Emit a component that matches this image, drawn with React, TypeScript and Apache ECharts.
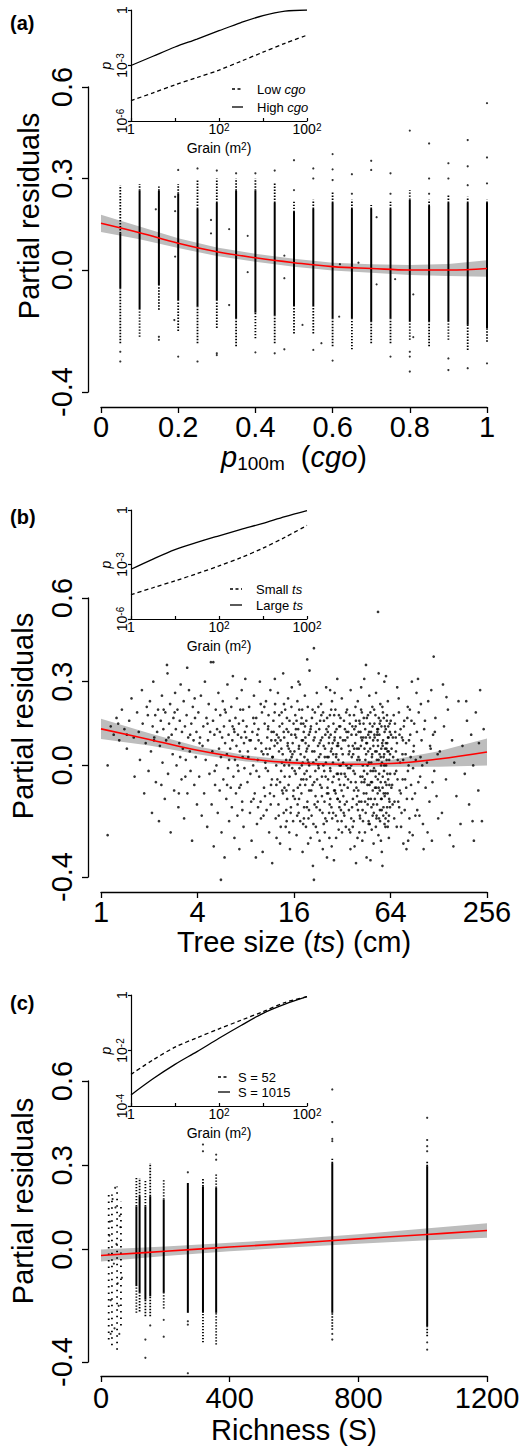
import React, { useEffect, useRef } from "react";
import * as echarts from "echarts";

const FONT = "'Liberation Sans', Arial, Helvetica, sans-serif";

// ---------------- Panel (a): p100m (cgo) ----------------
const aColX = [0.05, 0.1, 0.15, 0.2, 0.25, 0.3, 0.35, 0.4, 0.45, 0.5, 0.55, 0.6, 0.65, 0.7, 0.75, 0.8, 0.85, 0.9, 0.95, 1.0];
const aTop = [0.278, 0.282, 0.274, 0.282, 0.295, 0.3, 0.3, 0.3, 0.284, 0.224, 0.23, 0.257, 0.23, 0.213, 0.224, 0.262, 0.23, 0.246, 0.24, 0.23];
const aCoreTop = [0.12, 0.26, 0.26, 0.25, 0.2, 0.22, 0.26, 0.26, 0.22, 0.19, 0.2, 0.22, 0.2, 0.2, 0.2, 0.23, 0.21, 0.22, 0.22, 0.22];
const aCoreBot = [-0.06, -0.13, -0.05, -0.1, -0.12, -0.1, -0.16, -0.14, -0.15, -0.12, -0.12, -0.16, -0.16, -0.17, -0.16, -0.17, -0.17, -0.17, -0.18, -0.19];
const aBot = [-0.24, -0.219, -0.13, -0.2, -0.24, -0.19, -0.25, -0.224, -0.24, -0.208, -0.208, -0.25, -0.26, -0.24, -0.24, -0.229, -0.25, -0.229, -0.262, -0.235];
const aPoints = [
  [0.05, -0.268], [0.05, -0.3], [0.15, -0.219], [0.15, -0.229], [0.2, 0.328], [0.2, -0.284],
  [0.25, 0.333], [0.25, -0.3], [0.3, 0.326], [0.3, -0.273], [0.3, -0.279], [0.35, 0.317],
  [0.4, 0.317], [0.4, -0.27], [0.45, 0.326], [0.45, -0.273], [0.5, 0.36], [0.5, 0.262],
  [0.55, 0.333], [0.55, 0.3], [0.55, -0.262], [0.6, 0.38], [0.6, 0.33], [0.6, 0.295], [0.6, -0.297],
  [0.65, 0.314], [0.65, 0.25], [0.7, 0.358], [0.7, 0.328], [0.75, 0.317], [0.75, 0.25], [0.75, -0.284],
  [0.8, 0.457], [0.8, -0.268], [0.8, -0.284], [0.8, -0.333], [0.85, 0.415], [0.85, 0.3], [0.85, 0.25],
  [0.9, 0.35], [0.9, 0.3], [0.9, -0.29], [0.9, -0.328], [0.95, 0.426], [0.95, 0.34], [0.95, 0.278], [0.95, -0.322],
  [1.0, 0.547], [1.0, 0.369], [1.0, 0.284], [1.0, -0.306],
  [0.142, 0.199], [0.192, 0.24], [0.192, 0.193], [0.192, 0.044], [0.285, 0.164], [0.285, 0.12], [0.332, 0.134],
  [0.38, 0.112], [0.38, -0.007], [0.475, 0.047], [0.475, -0.027], [0.619, 0.019], [0.667, 0.024], [0.714, 0.173],
  [0.714, -0.047], [0.762, -0.03], [0.809, -0.08], [0.332, -0.115], [0.522, -0.18], [0.571, -0.24], [0.475, -0.26],
  [0.809, -0.22], [0.617, -0.153], [0.19, -0.164]
];
const aFitX = [0, 0.1, 0.2, 0.3, 0.4, 0.5, 0.6, 0.7, 0.8, 0.9, 1.0];
const aFit = [0.153, 0.122, 0.088, 0.06, 0.04, 0.024, 0.011, 0.005, 0.0, 0.0, 0.005];
const aHalf = [0.028, 0.021, 0.016, 0.014, 0.013, 0.013, 0.013, 0.014, 0.016, 0.02, 0.027];

// inset curves: log10 grain vs log10 p
const grainLog = [0, 0.5, 1, 1.5, 2, 2.5, 3, 3.5, 4];
const aLowCgo = [-4.9, -4.48, -4.05, -3.65, -3.25, -2.77, -2.28, -1.8, -1.36];
const aHighCgo = [-3.0, -2.5, -2.0, -1.57, -1.12, -0.68, -0.3, -0.06, 0];

// ---------------- Panel (b): tree size [cm, residual] ----------------
const bPoints = [
  [1.1, 0.0], [1.1, -0.25], [1.15, 0.14], [1.2, 0.11], [1.25, 0.17], [1.3, 0.09], [1.35, 0.2], [1.4, 0.13], [1.45, 0.06], [1.5, 0.16],
  [1.55, 0.24], [1.6, 0.1], [1.62, -0.04], [1.68, 0.19], [1.72, 0.12], [1.75, 0.02], [1.8, 0.27], [1.82, 0.15], [1.86, -0.1], [1.9, 0.08],
  [1.93, 0.21], [1.96, 0.18], [1.98, -0.02], [1.45, 0.11], [1.28, 0.15],
  [2.02, 0.23], [2.05, 0.05], [2.08, -0.17], [2.1, 0.14], [2.12, 0.3], [2.15, 0.1], [2.18, 0.18], [2.2, -0.06], [2.24, 0.12], [2.27, 0.2],
  [2.3, -0.2], [2.33, 0.07], [2.36, 0.16], [2.4, 0.25], [2.42, 0.01], [2.45, 0.13], [2.5, -0.12], [2.52, 0.19], [2.55, 0.09], [2.6, 0.33],
  [2.62, -0.03], [2.66, 0.15], [2.7, 0.22], [2.72, -0.24], [2.76, 0.11], [2.8, 0.04], [2.83, 0.17], [2.86, -0.09], [2.9, 0.26], [2.93, 0.13],
  [2.96, 0.0], [3.0, 0.2], [3.04, -0.15], [3.08, 0.08], [3.1, 0.16], [3.14, 0.29], [3.18, -0.05], [3.2, 0.12], [3.24, 0.06], [3.28, 0.23],
  [3.3, -0.19], [3.34, 0.14], [3.38, 0.02], [3.42, 0.18], [3.46, -0.1], [3.5, 0.1], [3.54, 0.27], [3.58, 0.05], [3.62, -0.02], [3.66, 0.15],
  [3.7, -0.27], [3.74, 0.21], [3.78, 0.09], [3.82, -0.07], [3.86, 0.17], [3.9, 0.03], [3.94, 0.12], [3.97, -0.14], [2.58, 0.36], [3.45, 0.35],
  [2.14, 0.09], [2.38, -0.07], [2.64, 0.1], [2.88, 0.19], [3.12, 0.03], [3.36, -0.04], [3.6, 0.11], [3.84, 0.24], [2.46, 0.2], [3.06, -0.1],
  [4.05, 0.19], [4.1, -0.04], [4.15, 0.1], [4.2, 0.25], [4.25, -0.18], [4.3, 0.07], [4.35, 0.14], [4.4, -0.1], [4.45, 0.3], [4.5, 0.02],
  [4.55, 0.17], [4.6, -0.22], [4.65, 0.09], [4.7, 0.22], [4.75, -0.03], [4.8, 0.12], [4.85, 0.37], [4.9, -0.14], [4.95, 0.05], [5.0, 0.16],
  [5.05, -0.29], [5.1, 0.11], [5.15, -0.07], [5.2, 0.2], [5.25, 0.0], [5.3, 0.13], [5.35, -0.17], [5.4, 0.26], [5.45, 0.06], [5.5, -0.09],
  [5.55, 0.18], [5.6, 0.03], [5.65, -0.24], [5.7, 0.1], [5.75, 0.23], [5.8, -0.05], [5.85, 0.14], [5.9, -0.33], [5.95, 0.08], [6.0, 0.19],
  [6.05, -0.12], [6.1, 0.04], [6.15, 0.29], [6.2, -0.01], [6.25, 0.11], [6.3, -0.2], [6.35, 0.16], [6.4, 0.06], [6.45, -0.08], [6.5, 0.21],
  [6.55, -0.15], [6.6, 0.09], [6.65, 0.32], [6.7, -0.04], [6.75, 0.13], [6.8, -0.26], [6.85, 0.02], [6.9, 0.17], [6.95, -0.1], [7.0, 0.07],
  [7.05, 0.24], [7.1, -0.18], [7.15, 0.11], [7.2, -0.02], [7.25, 0.15], [7.3, -0.3], [7.35, 0.05], [7.4, 0.2], [7.45, -0.07], [7.5, 0.1],
  [7.55, 0.27], [7.6, -0.13], [7.65, 0.03], [7.7, 0.16], [7.75, -0.22], [7.8, 0.08], [7.85, -0.01], [7.9, 0.12], [7.95, 0.31], [5.02, 0.37], [5.6, -0.41],
  [4.12, 0.08], [4.62, 0.15], [5.12, -0.02], [5.52, 0.12], [5.92, 0.2], [6.12, -0.07], [6.62, 0.14], [7.12, 0.0], [7.62, -0.16], [6.3, 0.02],
  [6.8, 0.12], [7.3, -0.08], [7.7, 0.2],
  [8.1, 0.14], [8.2, -0.06], [8.3, 0.03], [8.4, 0.21], [8.5, -0.17], [8.6, 0.09], [8.7, -0.27], [8.8, 0.12], [8.9, 0.0], [9.0, 0.25],
  [9.1, -0.1], [9.2, 0.06], [9.3, 0.17], [9.4, -0.21], [9.5, 0.02], [9.6, 0.13], [9.7, -0.04], [9.8, 0.3], [9.9, -0.13], [10.0, 0.08],
  [10.1, 0.19], [10.2, -0.31], [10.3, 0.04], [10.4, -0.08], [10.5, 0.15], [10.6, 0.01], [10.7, 0.23], [10.8, -0.16], [10.9, 0.1], [11.0, -0.02],
  [11.1, 0.18], [11.2, -0.24], [11.3, 0.06], [11.4, 0.27], [11.5, -0.07], [11.6, 0.12], [11.7, -0.35], [11.8, 0.03], [11.9, 0.16], [12.0, -0.11],
  [12.1, 0.07], [12.2, 0.22], [12.3, -0.19], [12.4, 0.0], [12.5, 0.11], [12.6, -0.05], [12.7, 0.26], [12.8, -0.14], [12.9, 0.05], [13.0, 0.14],
  [13.1, -0.28], [13.2, 0.09], [13.3, -0.02], [13.4, 0.19], [13.5, -0.09], [13.6, 0.04], [13.7, 0.33], [13.8, -0.17], [13.9, 0.1], [14.0, -0.04],
  [14.1, 0.2], [14.2, -0.22], [14.3, 0.02], [14.4, 0.13], [14.5, -0.12], [14.6, 0.07], [14.7, 0.24], [14.8, -0.07], [14.9, 0.0], [15.0, 0.16],
  [15.1, -0.3], [15.2, 0.05], [15.3, -0.15], [15.4, 0.11], [15.5, 0.28], [15.6, -0.01], [15.7, 0.08], [15.8, -0.2], [15.9, 0.15], [8.45, 0.09],
  [8.95, -0.12], [9.45, 0.11], [9.95, -0.19], [10.45, 0.21], [10.95, 0.04], [11.45, -0.14], [11.95, 0.12], [12.45, -0.26], [12.95, 0.18], [13.45, 0.01],
  [13.95, -0.08], [14.45, 0.17], [14.95, -0.24], [15.45, 0.03], [9.25, -0.33], [12.15, 0.31], [10.65, -0.01], [11.55, 0.09], [13.65, -0.1], [14.85, 0.06],
  [8.05, 0.1], [8.55, -0.03], [9.05, 0.15], [9.55, -0.15], [10.05, 0.05], [10.55, -0.11], [11.05, 0.14], [11.65, -0.05], [12.25, 0.09], [12.85, -0.18],
  [13.35, 0.06], [13.85, 0.22], [14.35, -0.09], [14.75, 0.12], [15.25, -0.17], [15.65, 0.04], [8.25, 0.05], [8.65, -0.13], [8.92, 0.17], [9.33, -0.02],
  [9.62, 0.09], [9.92, 0.22], [10.33, -0.18], [10.72, 0.06], [11.02, 0.13], [11.33, -0.1], [11.72, 0.03], [12.12, 0.19], [12.42, -0.07], [12.82, 0.1],
  [13.22, -0.22], [13.52, 0.15], [13.92, 0.0], [14.32, -0.16], [14.62, 0.08], [15.02, -0.04], [15.42, 0.21], [15.82, -0.11],
  [16.1, 0.05], [16.2, -0.12], [16.3, 0.18], [16.4, -0.03], [16.5, 0.1], [16.6, -0.25], [16.7, 0.02], [16.8, 0.23], [16.9, -0.08], [17.0, 0.13],
  [17.1, -0.17], [17.2, 0.07], [17.3, -0.01], [17.4, 0.29], [17.5, -0.2], [17.6, 0.04], [17.7, 0.15], [17.8, -0.1], [17.9, 0.0], [18.0, 0.2],
  [18.1, -0.31], [18.2, 0.09], [18.3, -0.05], [18.4, 0.12], [18.5, -0.15], [18.6, 0.03], [18.7, 0.25], [18.8, -0.07], [18.9, 0.08], [19.0, -0.22],
  [19.1, 0.16], [19.2, -0.02], [19.3, 0.06], [19.4, -0.13], [19.5, 0.21], [19.6, -0.28], [19.7, 0.01], [19.8, 0.11], [19.9, -0.09], [20.0, 0.34],
  [20.2, -0.04], [20.4, 0.14], [20.6, -0.18], [20.8, 0.05], [21.0, -0.36], [21.2, 0.09], [21.4, -0.06], [21.6, 0.19], [21.8, -0.11], [22.0, 0.02],
  [22.2, 0.26], [22.4, -0.24], [22.6, 0.07], [22.8, -0.01], [23.0, 0.13], [23.2, -0.16], [23.4, 0.04], [23.6, 0.22], [23.8, -0.08], [24.0, 0.1],
  [24.2, -0.3], [24.4, 0.0], [24.6, 0.16], [24.8, -0.13], [25.0, 0.06], [25.2, -0.04], [25.4, 0.28], [25.6, -0.2], [25.8, 0.03], [26.0, 0.12],
  [26.2, -0.1], [26.4, 0.08], [26.6, -0.26], [26.8, 0.18], [27.0, -0.02], [27.2, 0.05], [27.4, -0.15], [27.6, 0.23], [27.8, -0.06], [28.0, 0.01],
  [28.2, 0.15], [28.4, -0.34], [28.6, 0.09], [28.8, -0.09], [29.0, 0.2], [29.2, -0.18], [29.4, 0.04], [29.6, -0.03], [29.8, 0.31], [30.0, -0.12],
  [30.2, 0.07], [30.4, -0.23], [30.6, 0.14], [30.8, 0.0], [31.0, -0.07], [31.2, 0.17], [31.4, -0.16], [31.6, 0.06], [31.8, 0.24], [16.25, 0.11],
  [16.75, -0.18], [17.25, 0.2], [17.75, -0.05], [18.25, -0.21], [18.75, 0.14], [19.25, -0.15], [19.75, 0.07], [20.3, -0.26], [20.7, 0.17], [21.1, 0.01],
  [21.5, -0.14], [21.9, 0.12], [22.3, -0.05], [22.7, 0.21], [23.1, -0.27], [23.5, 0.09], [23.9, -0.11], [24.3, 0.19], [24.7, -0.02], [25.1, -0.19],
  [25.5, 0.13], [25.9, -0.08], [26.3, 0.03], [26.7, -0.14], [27.1, 0.11], [27.5, -0.29], [27.9, 0.08], [28.3, -0.04], [28.7, 0.26], [29.1, -0.1],
  [29.5, 0.13], [29.9, -0.2], [30.3, 0.02], [30.7, -0.15], [31.1, 0.1], [31.5, -0.03], [31.9, -0.24], [19.35, 0.38], [21.3, 0.42], [21.3, -0.41],
  [25.7, -0.33], [17.05, 0.3], [26.9, 0.27],
  [16.15, -0.02], [16.45, 0.13], [16.85, -0.14], [17.15, 0.06], [17.45, -0.07], [17.85, 0.17], [18.15, 0.01], [18.45, -0.19], [18.85, 0.1], [19.15, -0.05],
  [19.45, 0.02], [19.85, -0.16], [20.1, 0.12], [20.5, -0.09], [20.9, 0.2], [21.15, -0.21], [21.45, 0.05], [21.75, -0.02], [22.15, 0.15], [22.5, -0.13],
  [22.9, 0.03], [23.3, -0.07], [23.7, 0.18], [24.1, -0.17], [24.5, 0.07], [24.9, -0.24], [25.3, 0.01], [25.75, 0.17], [26.1, -0.05], [26.5, 0.1],
  [26.95, -0.12], [27.3, 0.2], [27.7, -0.19], [28.1, 0.04], [28.5, -0.09], [28.9, 0.12], [29.3, -0.26], [29.7, 0.07], [30.1, -0.03], [30.5, 0.18],
  [30.9, -0.13], [31.3, 0.0], [31.7, -0.2],
  [32.2, 0.04], [32.5, -0.11], [32.8, 0.16], [33.1, -0.03], [33.4, 0.09], [33.7, -0.22], [34.0, 0.0], [34.3, 0.2], [34.6, -0.08], [34.9, 0.12],
  [35.2, -0.16], [35.5, 0.05], [35.8, -0.01], [36.1, 0.27], [36.4, -0.19], [36.7, 0.03], [37.0, 0.14], [37.3, -0.12], [37.6, -0.02], [37.9, 0.18],
  [38.2, -0.29], [38.5, 0.08], [38.8, -0.06], [39.1, 0.11], [39.4, -0.14], [39.7, 0.02], [40.0, 0.23], [40.3, -0.09], [40.6, 0.06], [40.9, -0.24],
  [41.2, 0.15], [41.5, -0.04], [41.8, 0.07], [42.1, -0.13], [42.4, 0.19], [42.7, -0.27], [43.0, 0.0], [43.3, 0.1], [43.6, -0.1], [43.9, 0.31],
  [44.2, -0.05], [44.5, 0.13], [44.8, -0.17], [45.1, 0.04], [45.4, -0.33], [45.7, 0.08], [46.0, -0.07], [46.3, 0.18], [46.6, -0.12], [46.9, 0.01],
  [47.2, 0.25], [47.5, -0.21], [47.8, 0.06], [48.1, -0.02], [48.4, 0.12], [48.7, -0.15], [49.0, 0.03], [49.3, 0.21], [49.6, -0.09], [49.9, 0.09],
  [50.2, -0.28], [50.5, -0.01], [50.8, 0.15], [51.1, -0.12], [51.4, 0.05], [51.7, -0.04], [52.0, 0.26], [52.3, -0.19], [52.6, 0.02], [52.9, 0.11],
  [53.2, -0.1], [53.5, 0.07], [53.8, -0.25], [54.1, 0.17], [54.4, -0.03], [54.7, 0.04], [55.0, -0.16], [55.3, 0.22], [55.6, -0.06], [55.9, 0.0],
  [56.2, 0.14], [56.5, -0.31], [56.8, 0.08], [57.1, -0.08], [57.4, 0.19], [57.7, -0.18], [58.0, 0.03], [58.3, -0.02], [58.6, 0.3], [58.9, -0.11],
  [59.2, 0.06], [59.5, -0.22], [59.8, 0.13], [60.1, 0.0], [60.4, -0.07], [60.7, 0.16], [61.0, -0.15], [61.3, 0.05], [61.6, 0.23], [61.9, -0.05],
  [62.2, 0.1], [62.5, -0.26], [62.8, 0.02], [63.1, -0.13], [63.4, 0.12], [63.7, -0.03], [33.0, -0.18], [34.5, 0.1], [35.9, -0.24], [37.2, 0.07],
  [38.7, 0.21], [40.1, -0.16], [41.6, 0.12], [43.1, -0.2], [44.6, 0.02], [46.1, -0.14], [47.6, 0.1], [49.1, -0.06], [50.6, 0.2], [52.1, -0.08],
  [53.6, 0.13], [55.1, -0.2], [56.6, 0.01], [58.1, 0.17], [59.6, -0.1], [61.1, 0.08], [62.6, -0.18], [36.0, -0.3], [42.0, 0.28], [48.0, -0.34],
  [54.0, 0.33], [53.5, 0.55], [60.0, 0.32], [57.0, -0.36], [45.0, 0.36], [39.0, -0.35],
  [32.35, 0.09], [32.65, -0.17], [33.25, 0.13], [33.55, -0.04], [33.85, 0.19], [34.15, -0.13], [34.75, -0.01], [35.05, 0.07], [35.35, -0.23], [35.65, 0.15],
  [36.25, -0.06], [36.55, 0.11], [36.85, -0.15], [37.45, 0.04], [37.75, -0.2], [38.05, 0.13], [38.35, -0.03], [38.95, 0.16], [39.25, -0.08], [39.55, 0.06],
  [39.85, -0.26], [40.45, 0.12], [40.75, -0.13], [41.05, 0.02], [41.35, -0.19], [41.95, 0.2], [42.25, -0.06], [42.55, 0.09], [42.85, -0.16], [43.45, 0.15],
  [43.75, -0.02], [44.05, 0.06], [44.35, -0.24], [44.95, 0.1], [45.25, -0.1], [45.55, 0.17], [45.85, -0.03], [46.45, 0.05], [46.75, -0.2], [47.05, 0.12],
  [47.35, -0.07], [47.95, 0.19], [48.25, -0.12], [48.55, 0.01], [48.85, -0.23], [49.45, 0.14], [49.75, -0.02], [50.05, 0.07], [50.35, -0.17], [50.95, 0.1],
  [51.25, -0.08], [51.55, 0.18], [51.85, -0.22], [52.45, 0.05], [52.75, -0.14], [53.05, 0.12], [53.35, -0.05], [53.95, 0.02], [54.25, -0.19], [54.55, 0.11],
  [54.85, -0.09], [55.45, 0.16], [55.75, -0.27], [56.05, 0.06], [56.35, -0.12], [56.95, 0.21], [57.25, -0.04], [57.55, 0.09], [57.85, -0.15], [58.45, 0.04],
  [58.75, -0.21], [59.05, 0.14], [59.35, -0.06], [59.95, 0.08], [60.25, -0.17], [60.55, 0.02], [60.85, 0.18], [61.45, -0.1], [61.75, 0.1], [62.05, -0.2],
  [62.35, 0.05], [62.95, -0.07], [63.25, 0.15], [63.55, -0.15],
  [12.6, 0.08], [13.1, -0.06], [13.8, 0.12], [14.4, -0.2], [15.1, 0.02], [15.9, -0.09], [16.6, 0.16], [17.2, -0.12], [17.9, 0.09], [18.6, -0.03],
  [19.1, 0.05], [19.7, -0.19], [20.3, 0.13], [20.9, -0.07], [21.5, 0.1], [22.1, -0.15], [22.7, 0.0], [23.3, 0.16], [23.9, -0.04], [24.5, -0.21],
  [25.1, 0.11], [25.7, -0.1], [26.3, 0.14], [26.9, -0.01], [27.5, 0.06], [28.1, -0.17], [28.7, 0.1], [29.3, 0.03], [29.9, -0.12], [30.5, -0.05],
  [31.1, 0.14], [31.7, -0.09], [32.4, 0.01], [33.2, -0.14], [34.0, 0.12], [34.8, -0.05], [35.6, 0.18], [36.4, 0.0], [37.2, -0.22], [38.0, 0.06],
  [38.8, 0.14], [39.6, -0.11], [40.4, 0.03], [41.2, -0.18], [42.0, 0.1], [42.8, -0.04], [43.6, 0.17], [44.4, -0.13], [45.2, 0.08], [46.0, 0.0],
  [46.8, -0.21], [47.6, 0.15], [48.4, -0.06], [49.2, 0.04], [50.0, -0.14], [50.8, 0.11], [51.6, -0.02], [52.4, -0.18], [53.2, 0.09], [54.0, -0.08],
  [54.8, 0.15], [55.6, 0.03], [56.4, -0.16], [57.2, 0.07], [58.0, -0.1], [58.8, 0.12], [59.6, -0.19], [60.4, 0.06], [61.2, -0.03], [62.0, 0.14],
  [62.8, -0.12], [63.6, 0.04], [64.8, -0.08], [66.2, 0.1], [67.8, -0.13], [69.2, 0.05], [70.8, -0.05], [72.8, 0.11], [74.2, -0.1], [76.8, 0.02],
  [18.3, 0.15], [19.9, 0.0], [21.9, -0.22], [23.1, 0.08], [24.9, 0.03], [26.5, -0.17], [28.5, 0.18], [30.1, 0.08], [32.9, -0.07], [35.1, 0.04],
  [37.9, -0.09], [40.9, 0.16], [43.9, -0.06], [46.5, 0.11], [49.5, -0.18], [52.9, 0.13], [55.9, -0.12], [58.5, 0.0], [61.5, -0.22], [64.2, 0.16],
  [65, 0.06], [66, -0.14], [67, 0.18], [68, -0.03], [69, 0.1], [70, -0.22], [71, 0.02], [72, 0.24], [73, -0.09], [74, 0.13],
  [75, -0.17], [76, 0.04], [77, -0.28], [78, 0.16], [79, -0.05], [80, 0.08], [81, -0.12], [82, 0.21], [83, 0.0], [84, -0.19],
  [85, 0.11], [86, -0.07], [87, 0.3], [88, -0.25], [89, 0.05], [90, 0.15], [91, -0.1], [92, 0.02], [94, -0.16], [96, 0.19],
  [98, -0.04], [100, 0.09], [102, -0.21], [104, 0.13], [106, -0.08], [108, 0.01], [110, 0.23], [112, -0.13], [114, 0.06], [116, -0.27],
  [118, 0.11], [120, -0.02], [122, 0.17], [124, -0.11], [126, 0.04], [68.5, 0.12], [72.5, -0.15], [76.5, 0.09], [80.5, -0.3], [84.5, 0.2],
  [88.5, -0.01], [93, 0.26], [97, -0.18], [101, 0.0], [105, 0.16], [109, -0.24], [113, 0.07], [117, -0.06], [121, 0.12], [127, -0.19],
  [95, 0.31], [103, -0.3], [115, 0.27], [70.5, 0.28], [82.5, -0.27], [99, 0.22], [119, 0.39],
  [64.5, 0.11], [65.5, -0.07], [66.5, 0.03], [67.5, -0.19], [68.2, 0.15], [69.5, -0.02], [70.2, 0.08], [71.5, -0.13], [72.2, 0.19], [73.5, 0.01],
  [74.5, -0.22], [75.5, 0.1], [76.2, -0.05], [77.5, 0.14], [78.5, -0.16], [79.5, 0.04], [80.2, -0.08], [81.5, 0.17], [82.2, -0.02], [83.5, 0.09],
  [84.2, -0.24], [85.5, 0.03], [86.5, 0.16], [87.5, -0.12], [89.5, 0.07], [91.5, -0.18], [93.5, 0.12], [95.5, -0.06], [98.5, 0.03],
  [130, 0.05], [134, -0.17], [138, 0.14], [142, -0.05], [146, 0.2], [150, -0.25], [155, 0.09], [160, 0.01], [165, -0.11], [170, 0.23],
  [175, -0.21], [180, 0.07], [186, -0.03], [192, 0.16], [198, -0.14], [204, 0.11], [210, 0.0], [218, 0.19], [226, -0.09], [232, 0.27],
  [238, -0.2], [244, 0.13], [143, 0.245], [136, 0.29], [158, -0.29], [212, -0.27], [228, 0.08], [190, 0.23], [208, -0.2]
];
const bFitCm = [1, 2, 4, 8, 16, 32, 64, 128, 256];
const bFit = [0.131, 0.093, 0.054, 0.025, 0.009, 0.004, 0.007, 0.023, 0.048];
const bHalf = [0.036, 0.022, 0.014, 0.011, 0.009, 0.009, 0.012, 0.028, 0.048];
const bSmallTs = [-4.66, -4.28, -3.9, -3.5, -3.08, -2.62, -2.1, -1.5, -0.85];
const bLargeTs = [-3.26, -2.7, -2.18, -1.78, -1.42, -1.07, -0.73, -0.36, -0.03];

// ---------------- Panel (c): richness ----------------
const cColX = [110, 120, 138, 153, 195, 270, 317, 358, 719, 1014];
const cTop = [0.26, 0.255, 0.25, 0.308, 0.25, 0.237, 0.255, 0.267, 0.326, 0.314];
const cCoreTop = [0.154, 0.19, 0.154, 0.19, 0.178, 0.237, 0.225, 0.22, 0.308, 0.297];
const cCoreBot = [-0.13, -0.154, -0.178, -0.166, -0.154, -0.225, -0.225, -0.225, -0.225, -0.273];
const cBot = [-0.225, -0.22, -0.237, -0.237, -0.21, -0.225, -0.33, -0.338, -0.285, -0.308];
const cSparseX = [24, 34, 50, 62];
const cSparseTop = [0.21, 0.196, 0.225, 0.17];
const cSparseBot = [-0.32, -0.34, -0.356, -0.27];
const cPoints = [
  [138, -0.385], [138, -0.32], [153, -0.27], [195, -0.25], [195, -0.31], [270, 0.275], [270, -0.255], [270, -0.267], [270, -0.44],
  [317, 0.374], [317, 0.35], [358, 0.338], [358, 0.32], [719, 0.57], [719, 0.454], [719, 0.394], [719, 0.386], [719, -0.3], [719, -0.32],
  [1014, 0.469], [1014, 0.39], [1014, 0.368], [1014, 0.35], [1014, -0.33], [1014, -0.356],
  [28, 0.1], [40, -0.05], [45, 0.15], [55, -0.2], [30, -0.3], [58, 0.12], [42, -0.28], [26, 0.05], [65, -0.1], [48, 0.02],
  [36, 0.18], [52, -0.12], [60, 0.08], [30, -0.18], [44, 0.22], [57, -0.3]
];
const cFitX = [0, 200, 400, 600, 800, 1000, 1200];
const cFit = [-0.021, -0.006, 0.009, 0.023, 0.038, 0.053, 0.068];
const cHalf = [0.021, 0.017, 0.015, 0.015, 0.017, 0.021, 0.026];
const cS52 = [-2.86, -2.34, -1.88, -1.54, -1.22, -0.91, -0.6, -0.27, -0.06];
const cS1015 = [-3.6, -3.02, -2.5, -2.04, -1.56, -1.1, -0.66, -0.33, -0.06];

// ---------------- helpers ----------------
const BLACK = "#000";
const axLine = { show: true, onZero: false, lineStyle: { color: BLACK, width: 1.3 } };

function bandSeries(gi: number, xs: number[], fit: number[], half: number[]) {
  return {
    type: "custom", xAxisIndex: gi, yAxisIndex: gi, z: 1, silent: true,
    data: xs.map((x, i) => [x, fit[i] - half[i], fit[i] + half[i]]),
    encode: { x: 0, y: [1, 2] },
    renderItem: (params: any, api: any) => {
      if (params.dataIndex !== 0) return null;
      const up = xs.map((x, i) => api.coord([x, fit[i] + half[i]]));
      const lo = xs.map((x, i) => api.coord([x, fit[i] - half[i]])).reverse();
      return { type: "polygon", shape: { points: up.concat(lo) }, style: { fill: "#bdbdbd" } };
    }
  };
}
function fitSeries(gi: number, xs: number[], fit: number[]) {
  return {
    type: "line", xAxisIndex: gi, yAxisIndex: gi, z: 5, silent: true, smooth: 0.4, symbol: "none",
    data: xs.map((x, i) => [x, fit[i]]),
    lineStyle: { color: "#ff0000", width: 1.6 }
  };
}
function columnSeries(gi: number, xs: number[], bot: number[], cb: number[], ct: number[], top: number[], dash: number[]) {
  return {
    type: "custom", xAxisIndex: gi, yAxisIndex: gi, z: 2, silent: true,
    data: xs.map((x, i) => [x, bot[i], cb[i], ct[i], top[i]]),
    encode: { x: 0, y: [1, 4] },
    renderItem: (params: any, api: any) => {
      const x = api.value(0);
      const c = (k: number) => api.coord([x, api.value(k)]);
      const b = c(1), p1 = c(2), p2 = c(3), t = c(4);
      const dotted = { stroke: BLACK, lineWidth: 1.8, lineDash: dash };
      return {
        type: "group", children: [
          { type: "line", shape: { x1: b[0], y1: b[1], x2: p1[0], y2: p1[1] }, style: dotted },
          { type: "line", shape: { x1: p1[0], y1: p1[1], x2: p2[0], y2: p2[1] }, style: { stroke: BLACK, lineWidth: 2 } },
          { type: "line", shape: { x1: p2[0], y1: p2[1], x2: t[0], y2: t[1] }, style: dotted }
        ]
      };
    }
  };
}
function scatterSeries(gi: number, pts: number[][], size: number) {
  return {
    type: "scatter", xAxisIndex: gi, yAxisIndex: gi, z: 3, silent: true, clip: false,
    symbol: "circle", symbolSize: size, data: pts, itemStyle: { color: BLACK }
  };
}
function insetLine(gi: number, vals: number[], dashed: boolean) {
  return {
    type: "line", xAxisIndex: gi, yAxisIndex: gi, z: 5, silent: true, smooth: 0.3, symbol: "none",
    data: grainLog.map((g, i) => [g, vals[i]]),
    lineStyle: { color: BLACK, width: 1.3, type: dashed ? [4, 3] : "solid" }
  };
}
const Y_TICKS = [-0.4, 0, 0.3, 0.6];
function mainY(gi: number) {
  return {
    gridIndex: gi, type: "value", min: -0.4, max: 0.6, interval: 0.1, offset: 13,
    axisLine: axLine,
    axisTick: { show: true, length: 6, customValues: Y_TICKS, lineStyle: { color: BLACK, width: 1.3 } },
    axisLabel: {
      customValues: Y_TICKS, rotate: 90, margin: 14, fontSize: 29, lineHeight: 24, color: BLACK, fontFamily: FONT,
      formatter: (v: number) => (Y_TICKS.some((t) => Math.abs(t - v) < 1e-6) ? v.toFixed(1) : "")
    },
    splitLine: { show: false }
  };
}
function mainX(gi: number, min: number, max: number, interval: number, offset: number, margin: number,
  fmt: (v: number) => string, name: string, nameGap: number, nameLH: number, rich: any) {
  return {
    gridIndex: gi, type: "value", position: "bottom", min, max, interval, offset,
    axisLine: axLine,
    axisTick: { show: true, length: 6, lineStyle: { color: BLACK, width: 1.3 } },
    axisLabel: { margin, fontSize: 29, lineHeight: 24, color: BLACK, fontFamily: FONT, formatter: fmt, showMinLabel: true, showMaxLabel: true },
    splitLine: { show: false },
    name, nameLocation: "middle", nameGap, nameMoveOverlap: false,
    nameTextStyle: { fontSize: 29, lineHeight: nameLH, color: BLACK, fontFamily: FONT, rich }
  };
}
const supRich = { sup: { fontSize: 10, verticalAlign: "top", fontFamily: FONT, color: BLACK } };
function insetX(gi: number) {
  return {
    gridIndex: gi, type: "value", position: "bottom", min: 0, max: 4, interval: 1,
    axisLine: { show: true, onZero: false, lineStyle: { color: BLACK, width: 1.2 } },
    axisTick: { show: true, inside: true, length: 3, lineStyle: { color: BLACK, width: 1.2 } },
    axisLabel: {
      margin: 1, fontSize: 14, color: BLACK, fontFamily: FONT, showMinLabel: true, showMaxLabel: true,
      formatter: (v: number) => (v === 0 ? "1" : v === 2 ? "10{sup|2}" : v === 4 ? "100{sup|2}" : ""),
      rich: supRich
    },
    splitLine: { show: false },
    name: "Grain (m{sup|2})", nameLocation: "middle", nameGap: 20, nameMoveOverlap: false,
    nameTextStyle: { fontSize: 14, color: BLACK, fontFamily: FONT, rich: supRich }
  };
}
function insetY(gi: number, min: number, interval: number) {
  return {
    gridIndex: gi, type: "value", min, max: 0, interval,
    axisLine: { show: true, onZero: false, lineStyle: { color: BLACK, width: 1.2 } },
    axisTick: { show: true, length: 3, lineStyle: { color: BLACK, width: 1.2 } },
    axisLabel: {
      rotate: 90, margin: 2, fontSize: 14, color: BLACK, fontFamily: FONT, showMinLabel: true, showMaxLabel: true,
      formatter: (v: number) => (v === 0 ? "1" : "10{sup|" + v + "}"),
      rich: supRich
    },
    splitLine: { show: false },
    name: "p", nameLocation: "middle", nameGap: 18, nameMoveOverlap: false,
    nameTextStyle: { fontSize: 14, fontStyle: "italic", color: BLACK, fontFamily: FONT }
  };
}
function gtext(text: string, x: number, y: number, size: number, extra: any = {}) {
  return {
    type: "text", x, y, silent: true, z: 10,
    style: {
      text, fontSize: size, fontFamily: FONT, fill: BLACK,
      align: extra.align || "left", textAlign: extra.align || "left",
      verticalAlign: "middle", textVerticalAlign: "middle",
      fontWeight: extra.fontWeight || "normal", rich: extra.rich
    },
    rotation: extra.rotation || 0
  };
}
function gline(x1: number, x2: number, y: number, dashed: boolean) {
  return {
    type: "line", silent: true, z: 10, shape: { x1, y1: y, x2, y2: y },
    style: { stroke: BLACK, lineWidth: 1.3, lineDash: dashed ? [3, 2.5] : null }
  };
}

export default function App() {
  const ref = useRef<HTMLDivElement>(null);
  useEffect(() => {
    document.body.style.margin = "0";
    if (!ref.current) return;
    const chart = echarts.init(ref.current, null, { renderer: "svg" });
    const itRich = { it: { fontStyle: "italic", fontSize: 13, fontFamily: FONT, color: BLACK } };
    const tok = (o: any) => Object.assign({ verticalAlign: "top", lineHeight: 29, fontSize: 29, fontFamily: FONT, color: BLACK }, o);
    const option: any = {
      animation: false,
      backgroundColor: "#fff",
      textStyle: { fontFamily: FONT },
      grid: [
        { left: 101, top: 87, width: 386, height: 305, outerBoundsMode: "none" },
        { left: 131, top: 10, width: 176, height: 111, outerBoundsMode: "none" },
        { left: 101, top: 598, width: 386, height: 279, outerBoundsMode: "none" },
        { left: 131, top: 510, width: 176, height: 109, outerBoundsMode: "none" },
        { left: 101, top: 1081, width: 386, height: 281, outerBoundsMode: "none" },
        { left: 131, top: 995, width: 176, height: 111, outerBoundsMode: "none" }
      ],
      xAxis: [
        mainX(0, 0, 1, 0.2, 15, 8, (v) => String(Math.round(v * 10) / 10),
          "{p|p}{sub|100m}{r|  (}{i|cgo}{r|)}", 35.5, 29,
          { p: tok({ fontStyle: "italic" }), sub: tok({ fontSize: 19, lineHeight: 30, verticalAlign: "bottom" }), r: tok({}), i: tok({ fontStyle: "italic" }) }),
        insetX(1),
        mainX(2, 0, 8, 2, 15, 7.5, (v) => String(Math.pow(2, v)),
          "Tree size ({i|ts}) (cm)", 37.5, 24, { i: { fontStyle: "italic", fontSize: 29, lineHeight: 24, fontFamily: FONT, color: BLACK } }),
        insetX(3),
        mainX(4, 0, 1200, 400, 14, 9.5, (v) => String(v), "Richness (S)", 42, 24, {}),
        insetX(5)
      ],
      yAxis: [mainY(0), insetY(1, -6, 3), mainY(2), insetY(3, -6, 3), mainY(4), insetY(5, -4, 2)],
      series: [
        bandSeries(0, aFitX, aFit, aHalf),
        columnSeries(0, aColX, aBot, aCoreBot, aCoreTop, aTop, [1.4, 1.6]),
        scatterSeries(0, aPoints, 2.2),
        fitSeries(0, aFitX, aFit),
        insetLine(1, aLowCgo, true),
        insetLine(1, aHighCgo, false),

        bandSeries(2, bFitCm.map((c) => Math.log2(c)), bFit, bHalf),
        scatterSeries(2, bPoints.map((p) => [Math.log2(p[0]), p[1]]), 2.7),
        fitSeries(2, bFitCm.map((c) => Math.log2(c)), bFit),
        insetLine(3, bSmallTs, true),
        insetLine(3, bLargeTs, false),

        bandSeries(4, cFitX, cFit, cHalf),
        columnSeries(4, cColX, cBot, cCoreBot, cCoreTop, cTop, [1.4, 1.6]),
        columnSeries(4, cSparseX, cSparseBot, cSparseBot, cSparseBot, cSparseTop, [1.5, 5]),
        scatterSeries(4, cPoints, 2.2),
        fitSeries(4, cFitX, cFit),
        insetLine(5, cS52, true),
        insetLine(5, cS1015, false)
      ],
      graphic: [
        gtext("(a)", 10, 22.5, 20, { fontWeight: "bold" }),
        gtext("(b)", 10, 517, 20, { fontWeight: "bold" }),
        gtext("(c)", 10, 1003, 20, { fontWeight: "bold" }),
        gtext("Partial residuals", 28.5, 216, 29, { align: "center", rotation: Math.PI / 2 }),
        gtext("Partial residuals", 23, 716, 29, { align: "center", rotation: Math.PI / 2 }),
        gtext("Partial residuals", 23, 1201, 29, { align: "center", rotation: Math.PI / 2 }),
        gline(232, 243, 89, true),
        gtext("Low {it|cgo}", 257, 89, 13, { rich: itRich }),
        gline(232, 243, 107, false),
        gtext("High {it|cgo}", 257, 107, 13, { rich: itRich }),
        gline(230, 242, 589, true),
        gtext("Small {it|ts}", 256, 589, 13, { rich: itRich }),
        gline(230, 242, 605, false),
        gtext("Large {it|ts}", 256, 605, 13, { rich: itRich }),
        gline(218, 228, 1077, true),
        gtext("S = 52", 238, 1077, 13),
        gline(218, 230, 1092, false),
        gtext("S = 1015", 238, 1092, 13)
      ]
    };
    chart.setOption(option);
    return () => chart.dispose();
  }, []);
  return <div ref={ref} style={{ width: 531, height: 1449 }} />;
}
